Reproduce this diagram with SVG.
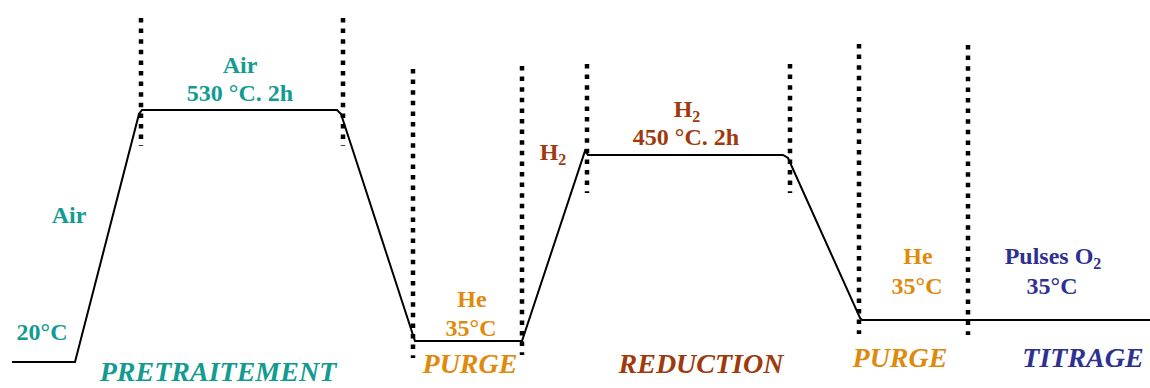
<svg xmlns="http://www.w3.org/2000/svg" width="1150" height="388" viewBox="0 0 1150 388">
<style>
.t{font-family:"Liberation Serif","Times New Roman",serif;font-weight:bold;font-size:24px;text-anchor:middle}
.s{font-family:"Liberation Serif","Times New Roman",serif;font-weight:bold;font-style:italic;font-size:28px;text-anchor:middle}
.sub{font-size:16px}
.teal{fill:#139B92}
.orange{fill:#E08A0C}
.brown{fill:#9E3A0C}
.blue{fill:#2E3192}
.dot{stroke:#000;stroke-width:4.5;stroke-dasharray:4.5 6.1;fill:none}
.curve{stroke:#000;stroke-width:2;fill:none}
</style>
<rect width="1150" height="388" fill="#fff"/>
<g id="separators">
<line class="dot" x1="141" y1="18" x2="141" y2="146"/>
<line class="dot" x1="343" y1="18" x2="343" y2="146"/>
<line class="dot" x1="413" y1="69" x2="413" y2="358"/>
<line class="dot" x1="522" y1="66" x2="522" y2="355"/>
<line class="dot" x1="587" y1="64" x2="587" y2="193"/>
<line class="dot" x1="790" y1="64" x2="790" y2="193"/>
<line class="dot" x1="859" y1="44" x2="859" y2="334"/>
<line class="dot" x1="968" y1="45" x2="968" y2="335"/>
</g>
<g id="connectors">
<polyline class="curve" points="12,362 75,362 139,114 142,110 337,110 341,114 413,335 415,341 522,341 585,151 588,155 783,155 788,158 860,318 862,320 1150,320"/>
</g>
<g id="pretraitement">
<text class="t teal" x="240" y="73">Air</text>
<text class="t teal" x="240" y="101">530 °C. 2h</text>
<text class="t teal" x="69" y="223">Air</text>
<text class="t teal" x="42" y="340">20°C</text>
<text class="s teal" x="218" y="381">PRETRAITEMENT</text>
</g>
<g id="purge1">
<text class="t orange" x="472" y="307">He</text>
<text class="t orange" x="471" y="336">35°C</text>
<text class="s orange" x="470" y="373">PURGE</text>
</g>
<g id="reduction">
<text class="t brown" x="553" y="160">H<tspan class="sub" dy="5">2</tspan></text>
<text class="t brown" x="687" y="117">H<tspan class="sub" dy="5">2</tspan></text>
<text class="t brown" x="686" y="145">450 °C. 2h</text>
<text class="s brown" x="701" y="373">REDUCTION</text>
</g>
<g id="purge2">
<text class="t orange" x="918" y="264">He</text>
<text class="t orange" x="917" y="294">35°C</text>
<text class="s orange" x="900" y="367">PURGE</text>
</g>
<g id="titrage">
<text class="t blue" x="1053" y="264">Pulses O<tspan class="sub" dy="5">2</tspan></text>
<text class="t blue" x="1052" y="294">35°C</text>
<text class="s blue" x="1083" y="367">TITRAGE</text>
</g>
</svg>
